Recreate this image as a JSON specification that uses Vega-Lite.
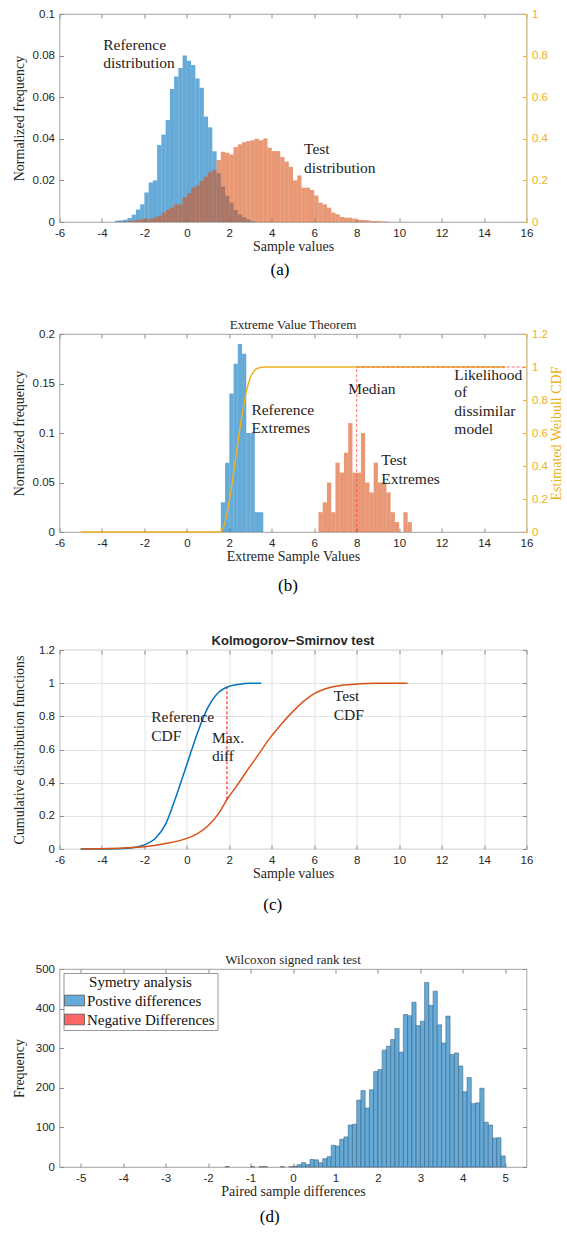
{
  "padding": {"left": 11.5, "top": 7, "right": 0, "bottom": 0},
  "background": "white",
  "spacing": 40,
  "resolve": {"scale": {"color": "independent"}, "legend": {"color": "independent"}},
  "config": {
    "view": {"stroke": "#8c8c8c", "strokeWidth": 0.8},
    "axis": {
      "labelFont": "Liberation Sans", "labelFontSize": 11.5, "labelColor": "#262626",
      "titleFont": "Liberation Serif", "titleFontSize": 14, "titleFontWeight": "normal", "titleColor": "#262626",
      "domain": false, "tickColor": "#8c8c8c", "tickSize": -4, "labelPadding": 9,
      "grid": false, "labelFlush": false, "labelOverlap": false
    },
    "axisY": {"minExtent": 28, "maxExtent": 28, "titlePadding": 5},
    "axisX": {"titlePadding": 1}
  },
  "vconcat": [
    {
      "title": {"text": "(a)", "orient": "bottom", "anchor": "middle", "font": "Liberation Serif", "fontSize": 17, "fontWeight": "normal", "color": "#000", "offset": 8},
      "vconcat": [
        {
          "width": 467, "height": 208,
          "layer": [
            {
              "data": {"values": [
                {"d":"R","x0":-3.4,"x1":-3.2,"v":0.0006},{"d":"R","x0":-3.2,"x1":-3.0,"v":0.0008},{"d":"R","x0":-3.0,"x1":-2.8,"v":0.0011},{"d":"R","x0":-2.8,"x1":-2.6,"v":0.0019},{"d":"R","x0":-2.6,"x1":-2.4,"v":0.0035},{"d":"R","x0":-2.4,"x1":-2.2,"v":0.006},{"d":"R","x0":-2.2,"x1":-2.0,"v":0.0085},{"d":"R","x0":-2.0,"x1":-1.8,"v":0.0142},{"d":"R","x0":-1.8,"x1":-1.6,"v":0.019},{"d":"R","x0":-1.6,"x1":-1.4,"v":0.02},{"d":"R","x0":-1.4,"x1":-1.2,"v":0.037},{"d":"R","x0":-1.2,"x1":-1.0,"v":0.042},{"d":"R","x0":-1.0,"x1":-0.8,"v":0.049},{"d":"R","x0":-0.8,"x1":-0.6,"v":0.064},{"d":"R","x0":-0.6,"x1":-0.4,"v":0.07},{"d":"R","x0":-0.4,"x1":-0.2,"v":0.074},{"d":"R","x0":-0.2,"x1":0.0,"v":0.08},{"d":"R","x0":0.0,"x1":0.2,"v":0.0775},{"d":"R","x0":0.2,"x1":0.4,"v":0.0755},{"d":"R","x0":0.4,"x1":0.6,"v":0.069},{"d":"R","x0":0.6,"x1":0.8,"v":0.0645},{"d":"R","x0":0.8,"x1":1.0,"v":0.0507},{"d":"R","x0":1.0,"x1":1.2,"v":0.0455},{"d":"R","x0":1.2,"x1":1.4,"v":0.034},{"d":"R","x0":1.4,"x1":1.6,"v":0.0235},{"d":"R","x0":1.6,"x1":1.8,"v":0.017},{"d":"R","x0":1.8,"x1":2.0,"v":0.0127},{"d":"R","x0":2.0,"x1":2.2,"v":0.0093},{"d":"R","x0":2.2,"x1":2.4,"v":0.0058},{"d":"R","x0":2.4,"x1":2.6,"v":0.0037},{"d":"R","x0":2.6,"x1":2.8,"v":0.0023},{"d":"R","x0":2.8,"x1":3.0,"v":0.0013},{"d":"R","x0":3.0,"x1":3.2,"v":0.0005},
                {"d":"T","x0":-3.2,"x1":-3.0,"v":0.0002},{"d":"T","x0":-3.0,"x1":-2.8,"v":0.0003},{"d":"T","x0":-2.8,"x1":-2.6,"v":0.0005},{"d":"T","x0":-2.6,"x1":-2.4,"v":0.0007},{"d":"T","x0":-2.4,"x1":-2.2,"v":0.001},{"d":"T","x0":-2.2,"x1":-2.0,"v":0.0013},{"d":"T","x0":-2.0,"x1":-1.8,"v":0.0016},{"d":"T","x0":-1.8,"x1":-1.6,"v":0.0016},{"d":"T","x0":-1.6,"x1":-1.4,"v":0.0021},{"d":"T","x0":-1.4,"x1":-1.2,"v":0.0029},{"d":"T","x0":-1.2,"x1":-1.0,"v":0.0045},{"d":"T","x0":-1.0,"x1":-0.8,"v":0.0058},{"d":"T","x0":-0.8,"x1":-0.6,"v":0.0069},{"d":"T","x0":-0.6,"x1":-0.4,"v":0.0085},{"d":"T","x0":-0.4,"x1":-0.2,"v":0.0085},{"d":"T","x0":-0.2,"x1":0.0,"v":0.012},{"d":"T","x0":0.0,"x1":0.2,"v":0.0138},{"d":"T","x0":0.2,"x1":0.4,"v":0.0165},{"d":"T","x0":0.4,"x1":0.6,"v":0.0176},{"d":"T","x0":0.6,"x1":0.8,"v":0.0197},{"d":"T","x0":0.8,"x1":1.0,"v":0.0218},{"d":"T","x0":1.0,"x1":1.2,"v":0.024},{"d":"T","x0":1.2,"x1":1.4,"v":0.025},{"d":"T","x0":1.4,"x1":1.6,"v":0.0298},{"d":"T","x0":1.6,"x1":1.8,"v":0.0338},{"d":"T","x0":1.8,"x1":2.0,"v":0.0333},{"d":"T","x0":2.0,"x1":2.2,"v":0.0325},{"d":"T","x0":2.2,"x1":2.4,"v":0.036},{"d":"T","x0":2.4,"x1":2.6,"v":0.0373},{"d":"T","x0":2.6,"x1":2.8,"v":0.0384},{"d":"T","x0":2.8,"x1":3.0,"v":0.0389},{"d":"T","x0":3.0,"x1":3.2,"v":0.0393},{"d":"T","x0":3.2,"x1":3.4,"v":0.04},{"d":"T","x0":3.4,"x1":3.6,"v":0.0393},{"d":"T","x0":3.6,"x1":3.8,"v":0.0402},{"d":"T","x0":3.8,"x1":4.0,"v":0.0357},{"d":"T","x0":4.0,"x1":4.2,"v":0.0341},{"d":"T","x0":4.2,"x1":4.4,"v":0.0341},{"d":"T","x0":4.4,"x1":4.6,"v":0.0312},{"d":"T","x0":4.6,"x1":4.8,"v":0.029},{"d":"T","x0":4.8,"x1":5.0,"v":0.0265},{"d":"T","x0":5.0,"x1":5.2,"v":0.02},{"d":"T","x0":5.2,"x1":5.4,"v":0.0224},{"d":"T","x0":5.4,"x1":5.6,"v":0.0165},{"d":"T","x0":5.6,"x1":5.8,"v":0.0165},{"d":"T","x0":5.8,"x1":6.0,"v":0.0154},{"d":"T","x0":6.0,"x1":6.2,"v":0.0128},{"d":"T","x0":6.2,"x1":6.4,"v":0.0093},{"d":"T","x0":6.4,"x1":6.6,"v":0.0085},{"d":"T","x0":6.6,"x1":6.8,"v":0.0069},{"d":"T","x0":6.8,"x1":7.0,"v":0.0045},{"d":"T","x0":7.0,"x1":7.2,"v":0.0037},{"d":"T","x0":7.2,"x1":7.4,"v":0.0024},{"d":"T","x0":7.4,"x1":7.6,"v":0.0021},{"d":"T","x0":7.6,"x1":7.8,"v":0.0021},{"d":"T","x0":7.8,"x1":8.0,"v":0.0016},{"d":"T","x0":8.0,"x1":8.2,"v":0.001},{"d":"T","x0":8.2,"x1":8.4,"v":0.001},{"d":"T","x0":8.4,"x1":8.6,"v":0.0009},{"d":"T","x0":8.6,"x1":8.8,"v":0.0005},{"d":"T","x0":8.8,"x1":9.0,"v":0.0005},{"d":"T","x0":9.0,"x1":9.2,"v":0.0004},{"d":"T","x0":9.2,"x1":9.4,"v":0.0003},{"d":"T","x0":9.4,"x1":9.6,"v":0.0002}
              ]},
              "mark": {"type": "rect", "opacity": 0.6},
              "encoding": {
                "x": {"field": "x0", "type": "quantitative", "scale": {"domain": [-6, 16], "nice": false, "zero": false},
                      "axis": {"orient": "bottom", "values": [-6,-4,-2,0,2,4,6,8,10,12,14,16], "title": "Sample values", "labelExpr": "replace(datum.label, '−', '-')"}},
                "x2": {"field": "x1"},
                "y": {"field": "v", "type": "quantitative", "scale": {"domain": [0, 0.1], "nice": false},
                      "axis": {"orient": "left", "values": [0,0.02,0.04,0.06,0.08,0.1], "format": "~g", "title": "Normalized frequency"}},
                "y2": {"datum": 0},
                "color": {"field": "d", "type": "nominal", "scale": {"domain": ["R","T"], "range": ["#0072BD","#D95319"]}, "legend": null}
              }
            },
            {
              "data": {"values": [
                {"t":"Reference","x":-3.94,"y":0.853},{"t":"distribution","x":-3.94,"y":0.765},
                {"t":"Test","x":5.52,"y":0.349},{"t":"distribution","x":5.52,"y":0.261}
              ]},
              "mark": {"type": "text", "align": "left", "baseline": "middle", "font": "Liberation Serif", "fontSize": 15.5, "color": "#222"},
              "encoding": {
                "x": {"field": "x", "type": "quantitative", "axis": {"orient": "top", "labels": false, "title": null, "values": [-6,-4,-2,0,2,4,6,8,10,12,14,16]}},
                "y": {"field": "y", "type": "quantitative", "scale": {"domain": [0, 1], "nice": false},
                      "axis": {"orient": "right", "values": [0,0.2,0.4,0.6,0.8,1], "format": "~g", "title": null, "minExtent": 0, "maxExtent": 40,
                               "labelColor": "#EDB120", "tickColor": "#EDB120", "domain": true, "domainColor": "#F3CE6E"}},
                "text": {"field": "t"}
              }
            }
          ],
          "resolve": {"scale": {"y": "independent"}}
        }
      ]
    },
    {
      "title": {"text": "(b)", "orient": "bottom", "anchor": "middle", "font": "Liberation Serif", "fontSize": 17, "fontWeight": "normal", "color": "#000", "offset": 14},
      "vconcat": [
        {
          "width": 467, "height": 198,
          "title": {"text": "Extreme Value Theorem", "font": "Liberation Serif", "fontSize": 13, "fontWeight": "normal", "color": "#262626", "offset": -4},
          "layer": [
            {
              "data": {"values": [
                {"d":"R","x0":1.6,"x1":1.8,"v":0.03},{"d":"R","x0":1.8,"x1":2.0,"v":0.07},{"d":"R","x0":2.0,"x1":2.2,"v":0.14},{"d":"R","x0":2.2,"x1":2.4,"v":0.17},{"d":"R","x0":2.4,"x1":2.6,"v":0.19},{"d":"R","x0":2.6,"x1":2.8,"v":0.18},{"d":"R","x0":2.8,"x1":3.0,"v":0.1},{"d":"R","x0":3.0,"x1":3.2,"v":0.1},{"d":"R","x0":3.2,"x1":3.4,"v":0.02},{"d":"R","x0":3.4,"x1":3.6,"v":0.02},
                {"d":"T","x0":6.2,"x1":6.4,"v":0.02},{"d":"T","x0":6.4,"x1":6.6,"v":0.03},{"d":"T","x0":6.6,"x1":6.8,"v":0.05},{"d":"T","x0":6.8,"x1":7.0,"v":0.02},{"d":"T","x0":7.0,"x1":7.2,"v":0.07},{"d":"T","x0":7.2,"x1":7.4,"v":0.06},{"d":"T","x0":7.4,"x1":7.6,"v":0.08},{"d":"T","x0":7.6,"x1":7.8,"v":0.11},{"d":"T","x0":7.8,"x1":8.0,"v":0.06},{"d":"T","x0":8.0,"x1":8.2,"v":0.06},{"d":"T","x0":8.2,"x1":8.4,"v":0.1},{"d":"T","x0":8.4,"x1":8.6,"v":0.05},{"d":"T","x0":8.6,"x1":8.8,"v":0.04},{"d":"T","x0":8.8,"x1":9.0,"v":0.07},{"d":"T","x0":9.0,"x1":9.2,"v":0.05},{"d":"T","x0":9.2,"x1":9.4,"v":0.05},{"d":"T","x0":9.4,"x1":9.6,"v":0.04},{"d":"T","x0":9.6,"x1":9.8,"v":0.02},{"d":"T","x0":9.8,"x1":10.0,"v":0.01},{"d":"T","x0":10.2,"x1":10.4,"v":0.02},{"d":"T","x0":10.4,"x1":10.6,"v":0.01}
              ]},
              "mark": {"type": "rect", "opacity": 0.6},
              "encoding": {
                "x": {"field": "x0", "type": "quantitative", "scale": {"domain": [-6, 16], "nice": false, "zero": false},
                      "axis": {"orient": "bottom", "values": [-6,-4,-2,0,2,4,6,8,10,12,14,16], "title": "Extreme Sample Values", "labelExpr": "replace(datum.label, '−', '-')"}},
                "x2": {"field": "x1"},
                "y": {"field": "v", "type": "quantitative", "scale": {"domain": [0, 0.2], "nice": false},
                      "axis": {"orient": "left", "values": [0,0.05,0.1,0.15,0.2], "format": "~g", "title": "Normalized frequency"}},
                "y2": {"datum": 0},
                "color": {"field": "d", "type": "nominal", "scale": {"domain": ["R","T"], "range": ["#0072BD","#D95319"]}, "legend": null}
              }
            },
            {
              "data": {"values": [
                {"t":"Median","x":7.6,"y":0.864},
                {"t":"Reference","x":3.04,"y":0.738},{"t":"Extremes","x":3.04,"y":0.63},
                {"t":"Test","x":9.16,"y":0.438},{"t":"Extremes","x":9.16,"y":0.324},
                {"t":"Likelihood","x":12.6,"y":0.954},{"t":"of","x":12.6,"y":0.846},{"t":"dissimilar","x":12.6,"y":0.732},{"t":"model","x":12.6,"y":0.624}
              ]},
              "mark": {"type": "text", "align": "left", "baseline": "middle", "font": "Liberation Serif", "fontSize": 15.5, "color": "#222"},
              "encoding": {
                "x": {"field": "x", "type": "quantitative", "axis": null},
                "y": {"field": "y", "type": "quantitative", "scale": {"domain": [0, 1.2], "nice": false}, "axis": null},
                "text": {"field": "t"}
              }
            },
            {
              "data": {"values": [
                {"x":-5,"p":0},{"x":1.55,"p":0},{"x":1.7,"p":0.02},{"x":1.8,"p":0.06},{"x":1.9,"p":0.12},{"x":2.0,"p":0.19},{"x":2.1,"p":0.27},{"x":2.2,"p":0.36},{"x":2.3,"p":0.45},{"x":2.4,"p":0.54},{"x":2.5,"p":0.63},{"x":2.6,"p":0.71},{"x":2.7,"p":0.78},{"x":2.8,"p":0.85},{"x":2.9,"p":0.9},{"x":3.0,"p":0.94},{"x":3.2,"p":0.98},{"x":3.4,"p":0.995},{"x":3.7,"p":1},{"x":15,"p":1}
              ]},
              "mark": {"type": "line", "color": "#EDB120", "strokeWidth": 1.5, "interpolate": "monotone"},
              "encoding": {
                "x": {"field": "x", "type": "quantitative", "axis": {"orient": "top", "labels": false, "title": null, "values": [-6,-4,-2,0,2,4,6,8,10,12,14,16]}},
                "y": {"field": "p", "type": "quantitative", "scale": {"domain": [0, 1.2], "nice": false},
                      "axis": {"orient": "right", "values": [0,0.2,0.4,0.6,0.8,1,1.2], "format": "~g", "title": "Estimated Weibull CDF", "titleAngle": 270, "titleBaseline": "top", "titleColor": "#EDB120", "titlePadding": 2,
                               "minExtent": 0, "maxExtent": 40, "labelColor": "#EDB120", "tickColor": "#EDB120", "domain": true, "domainColor": "#F3CE6E"}}
              }
            },
            {
              "data": {"values": [
                {"x":8,"x2":8,"y":0,"y2":1},{"x":8,"x2":16,"y":1,"y2":1}
              ]},
              "mark": {"type": "rule", "color": "#FF3333", "opacity": 0.7, "strokeDash": [3, 2], "strokeWidth": 1},
              "encoding": {
                "x": {"field": "x", "type": "quantitative", "axis": null},
                "x2": {"field": "x2"},
                "y": {"field": "y", "type": "quantitative", "scale": {"domain": [0, 1.2], "nice": false}, "axis": null},
                "y2": {"field": "y2"}
              }
            }
          ],
          "resolve": {"scale": {"y": "independent"}}
        }
      ]
    },
    {
      "title": {"text": "(c)", "orient": "bottom", "anchor": "middle", "font": "Liberation Serif", "fontSize": 17, "fontWeight": "normal", "color": "#000", "offset": 16},
      "vconcat": [
        {
          "width": 467, "height": 199,
          "title": {"text": "Kolmogorov−Smirnov test", "font": "Liberation Sans", "fontSize": 13, "fontWeight": "bold", "color": "#262626", "offset": -4},
          "layer": [
            {
              "data": {"values": [
                {"c":"R","x":-5,"p":0},{"c":"R","x":-4,"p":0.0005},{"c":"R","x":-3,"p":0.003},{"c":"R","x":-2.5,"p":0.009},{"c":"R","x":-2,"p":0.025},{"c":"R","x":-1.5,"p":0.062},{"c":"R","x":-1,"p":0.15},{"c":"R","x":-0.5,"p":0.32},{"c":"R","x":0,"p":0.51},{"c":"R","x":0.5,"p":0.7},{"c":"R","x":1,"p":0.855},{"c":"R","x":1.5,"p":0.945},{"c":"R","x":1.9,"p":0.977},{"c":"R","x":2.5,"p":0.994},{"c":"R","x":3,"p":0.999},{"c":"R","x":3.5,"p":1},
                {"c":"T","x":-5,"p":0},{"c":"T","x":-4,"p":0.002},{"c":"T","x":-3,"p":0.006},{"c":"T","x":-2,"p":0.013},{"c":"T","x":-1,"p":0.033},{"c":"T","x":0,"p":0.064},{"c":"T","x":0.5,"p":0.093},{"c":"T","x":1,"p":0.14},{"c":"T","x":1.5,"p":0.215},{"c":"T","x":1.9,"p":0.3},{"c":"T","x":2.4,"p":0.39},{"c":"T","x":2.8,"p":0.466},{"c":"T","x":3.4,"p":0.575},{"c":"T","x":3.9,"p":0.667},{"c":"T","x":4.5,"p":0.76},{"c":"T","x":5,"p":0.83},{"c":"T","x":5.5,"p":0.89},{"c":"T","x":6,"p":0.937},{"c":"T","x":6.5,"p":0.965},{"c":"T","x":7,"p":0.982},{"c":"T","x":8,"p":0.995},{"c":"T","x":9,"p":0.999},{"c":"T","x":10.4,"p":1}
              ]},
              "mark": {"type": "line", "strokeWidth": 1.5, "interpolate": "monotone"},
              "encoding": {
                "x": {"field": "x", "type": "quantitative", "scale": {"domain": [-6, 16], "nice": false, "zero": false},
                      "axis": {"orient": "bottom", "values": [-6,-4,-2,0,2,4,6,8,10,12,14,16], "title": "Sample values", "grid": true, "gridColor": "#e3e3e3", "labelExpr": "replace(datum.label, '−', '-')"}},
                "y": {"field": "p", "type": "quantitative", "scale": {"domain": [0, 1.2], "nice": false},
                      "axis": {"orient": "left", "values": [0,0.2,0.4,0.6,0.8,1,1.2], "format": "~g", "title": "Cumulative distribution functions", "grid": true, "gridColor": "#e3e3e3"}},
                "color": {"field": "c", "type": "nominal", "scale": {"domain": ["R","T"], "range": ["#0072BD","#D95319"]}, "legend": null}
              }
            },
            {
              "data": {"values": [{"x":1.89,"y":0.3,"y2":0.975}]},
              "mark": {"type": "rule", "color": "#FF0000", "strokeDash": [3, 2], "strokeWidth": 1},
              "encoding": {
                "x": {"field": "x", "type": "quantitative", "axis": null},
                "y": {"field": "y", "type": "quantitative", "axis": null},
                "y2": {"field": "y2"}
              }
            },
            {
              "data": {"values": [
                {"t":"Reference","x":-1.68,"y":0.794},{"t":"CDF","x":-1.68,"y":0.683},
                {"t":"Max.","x":1.18,"y":0.667},{"t":"diff","x":1.18,"y":0.561},
                {"t":"Test","x":6.92,"y":0.922},{"t":"CDF","x":6.92,"y":0.811}
              ]},
              "mark": {"type": "text", "align": "left", "baseline": "middle", "font": "Liberation Serif", "fontSize": 15.5, "color": "#222"},
              "encoding": {
                "x": {"field": "x", "type": "quantitative", "axis": {"orient": "top", "labels": false, "title": null, "values": [-6,-4,-2,0,2,4,6,8,10,12,14,16]}},
                "y": {"field": "y", "type": "quantitative", "axis": {"orient": "right", "labels": false, "title": null, "values": [0,0.2,0.4,0.6,0.8,1,1.2], "minExtent": 0, "maxExtent": 0}},
                "text": {"field": "t"}
              }
            }
          ]
        }
      ]
    },
    {
      "title": {"text": "(d)", "orient": "bottom", "anchor": "middle", "font": "Liberation Serif", "fontSize": 17, "fontWeight": "normal", "color": "#000", "offset": 10},
      "vconcat": [
        {
          "width": 467, "height": 198,
          "title": {"text": "Wilcoxon signed rank test", "font": "Liberation Serif", "fontSize": 13, "fontWeight": "normal", "color": "#262626", "offset": -4},
          "layer": [
            {
              "data": {"values": [
                {"s":"Postive differences","x0":0.0,"x1":0.1,"n":2},{"s":"Postive differences","x0":0.1,"x1":0.2,"n":6},{"s":"Postive differences","x0":0.2,"x1":0.3,"n":11},{"s":"Postive differences","x0":0.3,"x1":0.4,"n":6},{"s":"Postive differences","x0":0.4,"x1":0.5,"n":19},{"s":"Postive differences","x0":0.5,"x1":0.6,"n":18},{"s":"Postive differences","x0":0.6,"x1":0.7,"n":11},{"s":"Postive differences","x0":0.7,"x1":0.8,"n":21},{"s":"Postive differences","x0":0.8,"x1":0.9,"n":26},{"s":"Postive differences","x0":0.9,"x1":1.0,"n":55},
                {"s":"Postive differences","x0":1.0,"x1":1.1,"n":53},{"s":"Postive differences","x0":1.1,"x1":1.2,"n":70},{"s":"Postive differences","x0":1.2,"x1":1.3,"n":76},{"s":"Postive differences","x0":1.3,"x1":1.4,"n":106},{"s":"Postive differences","x0":1.4,"x1":1.5,"n":108},{"s":"Postive differences","x0":1.5,"x1":1.6,"n":169},{"s":"Postive differences","x0":1.6,"x1":1.7,"n":193},{"s":"Postive differences","x0":1.7,"x1":1.8,"n":149},{"s":"Postive differences","x0":1.8,"x1":1.9,"n":195},{"s":"Postive differences","x0":1.9,"x1":2.0,"n":241},
                {"s":"Postive differences","x0":2.0,"x1":2.1,"n":246},{"s":"Postive differences","x0":2.1,"x1":2.2,"n":295},{"s":"Postive differences","x0":2.2,"x1":2.3,"n":305},{"s":"Postive differences","x0":2.3,"x1":2.4,"n":322},{"s":"Postive differences","x0":2.4,"x1":2.5,"n":350},{"s":"Postive differences","x0":2.5,"x1":2.6,"n":290},{"s":"Postive differences","x0":2.6,"x1":2.7,"n":385},{"s":"Postive differences","x0":2.7,"x1":2.8,"n":382},{"s":"Postive differences","x0":2.8,"x1":2.9,"n":416},{"s":"Postive differences","x0":2.9,"x1":3.0,"n":357},
                {"s":"Postive differences","x0":3.0,"x1":3.1,"n":368},{"s":"Postive differences","x0":3.1,"x1":3.2,"n":466},{"s":"Postive differences","x0":3.2,"x1":3.3,"n":408},{"s":"Postive differences","x0":3.3,"x1":3.4,"n":444},{"s":"Postive differences","x0":3.4,"x1":3.5,"n":359},{"s":"Postive differences","x0":3.5,"x1":3.6,"n":313},{"s":"Postive differences","x0":3.6,"x1":3.7,"n":381},{"s":"Postive differences","x0":3.7,"x1":3.8,"n":284},{"s":"Postive differences","x0":3.8,"x1":3.9,"n":288},{"s":"Postive differences","x0":3.9,"x1":4.0,"n":255},
                {"s":"Postive differences","x0":4.0,"x1":4.1,"n":190},{"s":"Postive differences","x0":4.1,"x1":4.2,"n":226},{"s":"Postive differences","x0":4.2,"x1":4.3,"n":160},{"s":"Postive differences","x0":4.3,"x1":4.4,"n":162},{"s":"Postive differences","x0":4.4,"x1":4.5,"n":199},{"s":"Postive differences","x0":4.5,"x1":4.6,"n":113},{"s":"Postive differences","x0":4.6,"x1":4.7,"n":106},{"s":"Postive differences","x0":4.7,"x1":4.8,"n":73},{"s":"Postive differences","x0":4.8,"x1":4.9,"n":74},{"s":"Postive differences","x0":4.9,"x1":5.0,"n":28}
              ]},
              "mark": {"type": "rect", "stroke": "#2f5575", "strokeWidth": 0.5},
              "encoding": {
                "x": {"field": "x0", "type": "quantitative", "scale": {"domain": [-5.5, 5.5], "nice": false, "zero": false},
                      "axis": {"orient": "bottom", "values": [-5,-4,-3,-2,-1,0,1,2,3,4,5], "title": "Paired sample differences", "labelExpr": "replace(datum.label, '−', '-')"}},
                "x2": {"field": "x1"},
                "y": {"field": "n", "type": "quantitative", "scale": {"domain": [0, 500], "nice": false},
                      "axis": {"orient": "left", "values": [0,100,200,300,400,500], "title": "Frequency"}},
                "y2": {"datum": 0},
                "color": {"field": "s", "type": "nominal", "scale": {"domain": ["Postive differences","Negative Differences"], "range": ["#66AAD7","#FF6666"]},
                          "legend": {"orient": "top-left", "offset": 4, "title": "Symetry analysis", "strokeColor": "#999", "fillColor": "#ffffff", "padding": 2,
                                     "titleFont": "Liberation Serif", "titleFontSize": 15, "titleFontWeight": "normal", "titleColor": "#111", "titleAnchor": "middle", "titlePadding": 3,
                                     "labelFont": "Liberation Serif", "labelFontSize": 15, "labelColor": "#111", "labelOffset": 5,
                                     "symbolType": "M-1.5,-0.8L1.5,-0.8L1.5,0.8L-1.5,0.8Z", "symbolSize": 178, "symbolOffset": 1.5, "symbolStrokeColor": "#2f5575", "symbolStrokeWidth": 0.8, "symbolOpacity": 1, "rowPadding": 3}}
              }
            },
            {
              "data": {"values": [
                {"s":"Negative Differences","x0":-1.6,"x1":-1.5,"n":1},{"s":"Negative Differences","x0":-1.0,"x1":-0.9,"n":1},{"s":"Negative Differences","x0":-0.8,"x1":-0.7,"n":1},{"s":"Negative Differences","x0":-0.7,"x1":-0.6,"n":1},{"s":"Negative Differences","x0":-0.3,"x1":-0.2,"n":1},{"s":"Negative Differences","x0":-0.1,"x1":0.0,"n":1}
              ]},
              "mark": {"type": "rect", "stroke": "#555555", "strokeWidth": 0.5},
              "encoding": {
                "x": {"field": "x0", "type": "quantitative", "axis": {"orient": "top", "labels": false, "title": null, "values": [-5,-4,-3,-2,-1,0,1,2,3,4,5]}},
                "x2": {"field": "x1"},
                "y": {"field": "n", "type": "quantitative", "axis": {"orient": "right", "labels": false, "title": null, "values": [0,100,200,300,400,500], "minExtent": 0, "maxExtent": 0}},
                "y2": {"datum": 0},
                "color": {"field": "s", "type": "nominal"}
              }
            }
          ]
        }
      ]
    }
  ]
}
